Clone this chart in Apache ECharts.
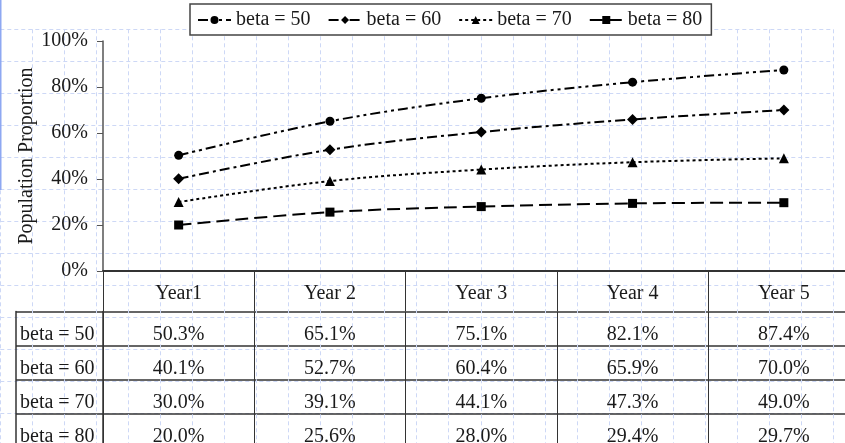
<!DOCTYPE html>
<html>
<head>
<meta charset="utf-8">
<script src="https://cdn.jsdelivr.net/npm/echarts@6/dist/echarts.min.js"></script>
<style>
  html, body { margin: 0; padding: 0; background: #fff; }
  #chart { width: 845px; height: 443px; }
</style>
</head>
<body>
<div id="chart"></div>
<script>
// Population proportion by year for four beta values
const years = ['Year1', 'Year 2', 'Year 3', 'Year 4', 'Year 5'];
const seriesNames = ['beta = 50', 'beta = 60', 'beta = 70', 'beta = 80'];
const beta50 = [50.3, 65.1, 75.1, 82.1, 87.4];
const beta60 = [40.1, 52.7, 60.4, 65.9, 70.0];
const beta70 = [30.0, 39.1, 44.1, 47.3, 49.0];
const beta80 = [20.0, 25.6, 28.0, 29.4, 29.7];
const yTicks = [0, 20, 40, 60, 80, 100];

const allValues = [beta50, beta60, beta70, beta80];
const symbols = ['circle', 'diamond', 'triangle', 'rect'];
const symbolSizes = [9, 11, 10, 9];
const dashes = [[10, 4, 3, 4, 3, 4], [10, 4, 3, 4], [3, 3], [13, 6]];

const FONT = '"Liberation Serif", "Times New Roman", serif';
const FS = 20;
const INK = '#1a1a1a';
const RULE = '#333';

// table cells: [yearIndex, rowIndex, value]
const cells = [];
allValues.forEach((vals, r) => vals.forEach((v, c) => cells.push([c, r, v])));

const chart = echarts.init(document.getElementById('chart'), null, { renderer: 'canvas' });

const lineSeries = allValues.map((vals, i) => ({
  name: seriesNames[i],
  type: 'line',
  xAxisIndex: 1,
  yAxisIndex: 1,
  data: vals,
  smooth: 0.35,
  symbol: symbols[i],
  symbolSize: symbolSizes[i],
  showAllSymbol: true,
  color: '#000',
  itemStyle: { color: '#000' },
  lineStyle: { color: '#000', width: 2, type: dashes[i] },
  emphasis: { disabled: true },
  z: 5
}));

const gridBase = { outerBoundsMode: 'none', containLabel: false };

chart.setOption({
  animation: false,
  backgroundColor: '#fff',
  textStyle: { fontFamily: FONT, color: INK },
  graphic: [{
    type: 'rect',
    shape: { x: 0, y: 0, width: 1.5, height: 190 },
    style: { fill: '#8ea8f2' },
    z: 1
  }],
  legend: {
    left: 190,
    top: 4,
    padding: [6, 9, 5, 7],
    itemGap: 17,
    itemWidth: 33,
    itemHeight: 10,
    borderColor: '#444',
    borderWidth: 1.5,
    borderRadius: 0,
    backgroundColor: '#fff',
    textStyle: { fontFamily: FONT, fontSize: FS, color: INK },
    data: seriesNames
  },
  grid: [
    // sheet gridlines behind everything
    Object.assign({ left: 0.3, top: 29.3, width: 832.8, height: 416.4, z: 0 }, gridBase),
    // plot area
    Object.assign({ left: 103, top: 41, width: 756.5, height: 230 }, gridBase),
    // data table body
    Object.assign({ left: 103, top: 311.6, width: 756.5, height: 135.6 }, gridBase),
    // row-label column
    Object.assign({ left: 16, top: 311.6, width: 87, height: 135.6 }, gridBase)
  ],
  xAxis: [
    {
      gridIndex: 0, type: 'value', min: 0, max: 26, interval: 1,
      axisLine: { show: false }, axisTick: { show: false }, axisLabel: { show: false },
      splitLine: { show: true, lineStyle: { color: '#cdd8f6', width: 1, type: [4, 3] } },
      silent: true
    },
    {
      gridIndex: 1, type: 'category', data: years, boundaryGap: true,
      axisLine: { show: true, lineStyle: { color: RULE, width: 2 } },
      axisTick: { show: true, length: 40, interval: 0, alignWithLabel: false, lineStyle: { color: RULE, width: 1 } },
      axisLabel: { margin: 13, fontFamily: FONT, fontSize: FS, color: INK, interval: 0 },
      splitLine: { show: false }
    },
    {
      gridIndex: 2, type: 'category', data: years, boundaryGap: true,
      axisLine: { show: false }, axisTick: { show: false }, axisLabel: { show: false },
      splitLine: { show: true, interval: 0, lineStyle: { color: RULE, width: 1 } }
    },
    {
      gridIndex: 3, type: 'value', min: 0, max: 1, show: false
    }
  ],
  yAxis: [
    {
      gridIndex: 0, type: 'value', min: 0, max: 13, interval: 1,
      axisLine: { show: false }, axisTick: { show: false }, axisLabel: { show: false },
      splitLine: { show: true, lineStyle: { color: '#cdd8f6', width: 1, type: [4, 3] } },
      silent: true
    },
    {
      gridIndex: 1, type: 'value', min: yTicks[0], max: yTicks[yTicks.length - 1], interval: yTicks[1] - yTicks[0],
      name: 'Population Proportion',
      nameLocation: 'middle',
      nameGap: 66,
      nameMoveOverlap: false,
      nameTextStyle: { fontFamily: FONT, fontSize: FS, color: INK },
      axisLine: { show: true, lineStyle: { color: '#555', width: 1.5 } },
      axisTick: { show: true, length: 6, lineStyle: { color: '#555', width: 1 } },
      axisLabel: { margin: 15, fontFamily: FONT, fontSize: FS, color: INK, formatter: '{value}%' },
      splitLine: { show: false }
    },
    {
      gridIndex: 2, type: 'category', data: seriesNames, inverse: true, boundaryGap: true,
      axisLine: { show: true, lineStyle: { color: RULE, width: 1.5 } },
      axisTick: { show: false }, axisLabel: { show: false },
      splitLine: { show: true, interval: 0, lineStyle: { color: RULE, width: 1.5 } }
    },
    {
      gridIndex: 3, type: 'category', data: seriesNames, inverse: true, boundaryGap: true,
      axisLine: { show: true, lineStyle: { color: RULE, width: 1.5 } },
      axisTick: { show: false },
      axisLabel: {
        inside: true, margin: 4, interval: 0,
        fontFamily: FONT, fontSize: FS, color: INK,
        verticalAlign: 'top', lineHeight: 12
      },
      splitLine: { show: true, interval: 0, lineStyle: { color: RULE, width: 1.5 } }
    }
  ],
  series: lineSeries.concat([{
    name: 'table',
    type: 'custom',
    xAxisIndex: 2,
    yAxisIndex: 2,
    data: cells,
    silent: true,
    renderItem: function (params, api) {
      const p = api.coord([api.value(0), api.value(1)]);
      return {
        type: 'text',
        x: p[0],
        y: p[1] + 6,
        style: {
          text: api.value(2).toFixed(1) + '%',
          align: 'center',
          verticalAlign: 'middle',
          fontFamily: FONT,
          fontSize: FS,
          fill: INK
        }
      };
    }
  }])
});
</script>
</body>
</html>
